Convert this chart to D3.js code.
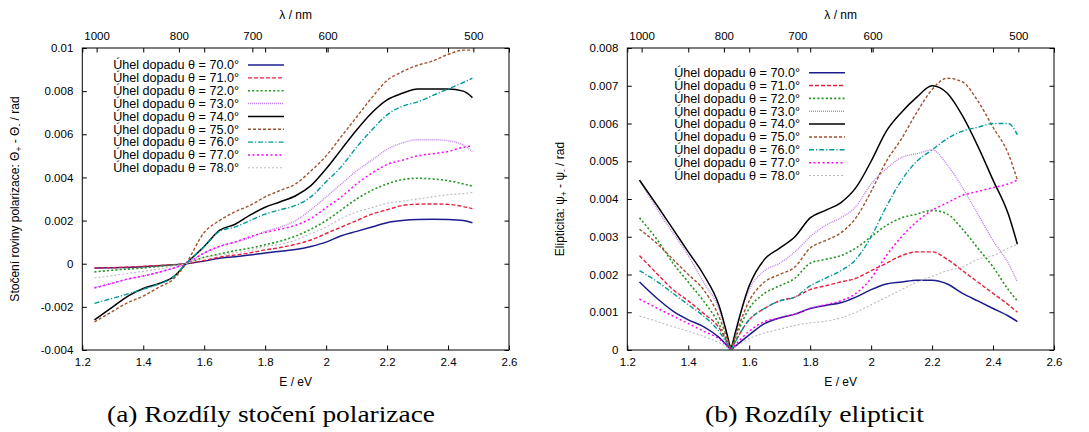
<!DOCTYPE html>
<html><head><meta charset="utf-8">
<script src="https://cdn.jsdelivr.net/npm/d3@7"></script>
<style>
body{margin:0;background:#fff}
svg{display:block}
text{fill:#000}
</style></head><body>
<svg id="chart" width="1089" height="432"></svg>
<script>
// ---------------- data ----------------
const energy = [1.24,1.3,1.35,1.4,1.45,1.5,1.54,1.6,1.65,1.7,1.75,1.8,1.85,1.9,1.95,2.0,2.05,2.1,2.15,2.2,2.25,2.3,2.35,2.4,2.45,2.48];
const angles = ["70.0","71.0","72.0","73.0","74.0","75.0","76.0","77.0","78.0"];

// (a) rotation differences  Θ+ - Θ-  [rad]
const rot70 = [-0.0002,-0.00019,-0.00017,-0.00014,-0.0001,-0.00005,0,0.00012,0.00025,0.00032,0.0004,0.0005,0.00058,0.00066,0.0008,0.001,0.0013,0.0015,0.0017,0.0019,0.002,0.00205,0.00206,0.00205,0.002,0.0019];
const rot71 = [-0.0002,-0.00018,-0.00015,-0.00012,-0.00008,-0.00004,0,0.00015,0.0003,0.0004,0.0005,0.00064,0.00075,0.0009,0.0011,0.0014,0.0017,0.002,0.0023,0.0025,0.0027,0.00276,0.00277,0.00275,0.00265,0.00255];
const rot72 = [-0.00038,-0.0003,-0.00025,-0.0002,-0.00013,-0.00006,0,0.0003,0.00045,0.0006,0.00072,0.00088,0.00105,0.00128,0.0016,0.002,0.0025,0.003,0.0034,0.0037,0.0039,0.00396,0.00393,0.00385,0.0037,0.0036];
const rot73 = [-0.0011,-0.0009,-0.00072,-0.00057,-0.0004,-0.0002,0,0.0005,0.0008,0.001,0.0012,0.0015,0.0017,0.002,0.0025,0.0031,0.0037,0.0043,0.0048,0.0053,0.0056,0.00575,0.00575,0.0057,0.0055,0.0052];
const rot74 = [-0.0026,-0.002,-0.0015,-0.00115,-0.00093,-0.0006,0,0.0008,0.00155,0.00182,0.00225,0.00262,0.00287,0.00315,0.00362,0.0044,0.0053,0.0062,0.007,0.0076,0.0079,0.0081,0.0081,0.0081,0.008,0.0077];
const rot75 = [-0.0027,-0.0022,-0.0018,-0.0015,-0.0011,-0.0007,0,0.00145,0.002,0.0024,0.0027,0.0031,0.0034,0.0037,0.0043,0.005,0.0059,0.0068,0.0077,0.0085,0.0089,0.0092,0.0094,0.0097,0.0099,0.0099];
const rot76 = [-0.00184,-0.0016,-0.0014,-0.00118,-0.00095,-0.0006,0,0.0008,0.0015,0.0017,0.002,0.0023,0.0025,0.0027,0.0031,0.0038,0.0045,0.0054,0.0062,0.0069,0.0073,0.0075,0.0078,0.0081,0.0084,0.0086];
const rot77 = [-0.00113,-0.0009,-0.0007,-0.00057,-0.0004,-0.0002,0,0.0005,0.0008,0.001,0.00125,0.00145,0.0016,0.00178,0.0021,0.0026,0.0031,0.0037,0.0042,0.0046,0.0048,0.005,0.0051,0.0052,0.0054,0.00545];
const rot78 = [-0.00066,-0.00055,-0.00045,-0.00035,-0.00025,-0.0001,0,0.0003,0.0004,0.0005,0.0006,0.0008,0.0009,0.0011,0.0014,0.0017,0.0021,0.0024,0.0026,0.0028,0.0029,0.003,0.0031,0.0032,0.00325,0.0033];

// (b) ellipticity differences  ψ+ - ψ-  [rad]
const ell70 = [0.0018,0.00135,0.00103,0.0008,0.00062,0.00034,0,0.0004,0.0007,0.00085,0.00095,0.0011,0.00118,0.00125,0.0014,0.0016,0.00175,0.0018,0.00185,0.00185,0.00175,0.0015,0.0013,0.0011,0.0009,0.00075];
const ell71 = [0.0025,0.002,0.0016,0.0013,0.00097,0.0006,0,0.0008,0.0011,0.0013,0.0014,0.0016,0.0017,0.0018,0.0019,0.0021,0.0023,0.0025,0.0026,0.0026,0.0024,0.0021,0.0018,0.0015,0.0012,0.001];
const ell72 = [0.0035,0.0029,0.0023,0.0018,0.0013,0.0007,0,0.0011,0.0015,0.0017,0.0019,0.0023,0.0024,0.0025,0.0027,0.003,0.0033,0.0035,0.0036,0.0037,0.0036,0.0032,0.0027,0.0022,0.0016,0.0013];
const ell73 = [0.0045,0.0037,0.0031,0.0025,0.0018,0.0011,0,0.0016,0.0021,0.0023,0.0026,0.003,0.0033,0.0035,0.0038,0.0044,0.0048,0.0051,0.0052,0.0053,0.0049,0.0043,0.0036,0.0029,0.0023,0.0018];
const ell74 = [0.0045,0.0038,0.0032,0.0026,0.002,0.0012,0,0.0017,0.0024,0.0027,0.003,0.0035,0.0037,0.0039,0.0043,0.005,0.0058,0.0063,0.0067,0.007,0.0068,0.0062,0.0054,0.0045,0.0036,0.0028];
const ell75 = [0.0032,0.0028,0.0024,0.002,0.0016,0.0009,0,0.0013,0.0018,0.002,0.0022,0.0027,0.0029,0.0031,0.0035,0.0042,0.005,0.0056,0.0063,0.0069,0.0072,0.0071,0.0066,0.0059,0.0052,0.0045];
const ell76 = [0.0021,0.0018,0.0015,0.0012,0.0009,0.0005,0,0.0008,0.0011,0.0013,0.0014,0.0017,0.0019,0.0021,0.0024,0.003,0.0038,0.0045,0.005,0.0053,0.0056,0.0058,0.0059,0.006,0.006,0.0057];
const ell77 = [0.00135,0.0011,0.0009,0.0007,0.0005,0.0003,0,0.0005,0.00075,0.00085,0.00095,0.0011,0.0012,0.0013,0.0015,0.0019,0.0025,0.003,0.0034,0.0037,0.0039,0.0041,0.0042,0.0043,0.0044,0.0045];
const ell78 = [0.0009,0.00075,0.00062,0.0005,0.00036,0.0002,0,0.0003,0.00045,0.00055,0.00065,0.00072,0.00076,0.00085,0.001,0.0012,0.0014,0.0016,0.0018,0.00195,0.0021,0.0022,0.0024,0.0025,0.0027,0.0028];

// axis ticks
const energyTicks = [1.2,1.4,1.6,1.8,2.0,2.2,2.4,2.6];
const rotTicks = [-0.004,-0.002,0,0.002,0.004,0.006,0.008,0.01];
const ellTicks = [0,0.001,0.002,0.003,0.004,0.005,0.006,0.007,0.008];
const lambdaLabels = [1000,800,700,600,500];
const lambdaAtEnergy = [1.247,1.517,1.758,2.005,2.483];

// ---------------- styles ----------------
const SANS = '"Liberation Sans",Arial,Helvetica,sans-serif';
const SERIF = '"Liberation Serif","Times New Roman",serif';
const styles = [
  {color:"#1c1c8c", dash:null, w:1.5},
  {color:"#e82040", dash:"4,2", w:1.4},
  {color:"#1f961f", dash:"2,2.2", w:1.6},
  {color:"#bf80ee", dash:"1,1", w:1.4},
  {color:"#000000", dash:null, w:1.5},
  {color:"#a0522d", dash:"3,2", w:1.4},
  {color:"#009a9a", dash:"5,2,1.2,2", w:1.4},
  {color:"#ff00ff", dash:"2,2.5", w:1.5},
  {color:"#bcbcbc", dash:"2,2", w:1.1}
];

const svg = d3.select("#chart");
const fmt = v => String(+v.toFixed(4));

function panel(cfg){
  const x = d3.scaleLinear().domain([1.2,2.6]).range([cfg.x0, cfg.x1]);
  const y = d3.scaleLinear().domain(cfg.yDomain).range([350,48]);
  const g = svg.append("g");

  g.append("g").attr("transform","translate(0,350)")
    .call(d3.axisBottom(x).tickValues(energyTicks).tickFormat(fmt).tickSize(-4.5).tickPadding(8));
  g.append("g").attr("transform","translate(0,48)")
    .call(d3.axisTop(x).tickValues(energyTicks).tickFormat("").tickSize(-4.5));
  g.append("g").attr("transform","translate(0,48)")
    .call(d3.axisTop(x).tickValues(lambdaAtEnergy).tickFormat((d,i)=>lambdaLabels[i]).tickSize(-4.5).tickPadding(8));
  g.append("g").attr("transform",`translate(${cfg.x0},0)`)
    .call(d3.axisLeft(y).tickValues(cfg.ticks).tickFormat(fmt).tickSize(-4.5).tickPadding(9));
  g.append("g").attr("transform",`translate(${cfg.x1},0)`)
    .call(d3.axisRight(y).tickValues(cfg.ticks).tickFormat("").tickSize(-4.5));

  g.selectAll(".domain").remove();
  g.selectAll(".tick line").attr("stroke","#000").attr("stroke-width",1);
  g.selectAll(".tick text").attr("font-size",11.5).style("font-family",SANS).attr("fill","#000");

  const cusp = energy.indexOf(1.54);
  const line = d3.line().x(d=>x(d[0])).y(d=>y(d[1])).curve(d3.curveMonotoneX);
  const clip = "clip"+cfg.id;
  g.append("clipPath").attr("id",clip).append("rect")
    .attr("x",cfg.x0).attr("y",48).attr("width",cfg.x1-cfg.x0).attr("height",302);
  const cg = g.append("g").attr("clip-path",`url(#${clip})`);
  cfg.series.forEach((vals,i)=>{
    const pts = energy.map((e,j)=>[e,vals[j]]);
    const parts = cfg.split ? [pts.slice(0,cusp+1), pts.slice(cusp)] : [pts];
    parts.forEach(p=>{
      cg.append("path").attr("d",line(p)).attr("fill","none")
        .attr("stroke",styles[i].color).attr("stroke-width",styles[i].w)
        .attr("stroke-dasharray",styles[i].dash);
    });
  });

  g.append("rect").attr("x",cfg.x0).attr("y",48).attr("width",cfg.x1-cfg.x0).attr("height",302)
    .attr("fill","none").attr("stroke","#000").attr("stroke-width",1);

  angles.forEach((a,i)=>{
    const ry = cfg.legY + i*12.85;
    g.append("text").attr("x",cfg.legX).attr("y",ry+4.3).attr("text-anchor","end")
      .style("font-family",SANS).attr("font-size",12.6).text(`Úhel dopadu θ = ${a}°`);
    g.append("line").attr("x1",cfg.legX+9).attr("x2",cfg.legX+45).attr("y1",ry).attr("y2",ry)
      .attr("stroke",styles[i].color).attr("stroke-width",styles[i].w)
      .attr("stroke-dasharray",styles[i].dash);
  });

  const cx = (cfg.x0+cfg.x1)/2;
  g.append("text").attr("x",cx).attr("y",19).attr("text-anchor","middle").style("font-family",SANS).attr("font-size",12).text("λ / nm");
  g.append("text").attr("x",cx).attr("y",386).attr("text-anchor","middle").style("font-family",SANS).attr("font-size",12).text("E / eV");

  const yl = g.append("text").attr("transform",`translate(${cfg.ylx},199) rotate(-90)`)
    .attr("text-anchor","middle").style("font-family",SANS).attr("font-size",12);
  yl.append("tspan").text(cfg.ylab[0]);
  yl.append("tspan").attr("font-size",8.5).attr("dy",3).text("+");
  yl.append("tspan").attr("dy",-3).text(cfg.ylab[1]);
  yl.append("tspan").attr("font-size",8.5).attr("dy",3).text("-");
  yl.append("tspan").attr("dy",-3).text(" / rad");

  svg.append("text").attr("x",cfg.capX).attr("y",422).attr("text-anchor","middle")
    .style("font-family",SERIF).attr("font-size",23.5)
    .attr("textLength",cfg.capW).attr("lengthAdjust","spacingAndGlyphs")
    .text(cfg.caption);
}

panel({id:"a", x0:82.3, x1:509, yDomain:[-0.004,0.01], ticks:rotTicks,
  series:[rot70,rot71,rot72,rot73,rot74,rot75,rot76,rot77,rot78], split:false,
  legX:239, legY:65, ylx:19, ylab:["Stočení roviny polarizace: Θ"," - Θ"],
  caption:"(a) Rozdíly stočení polarizace", capX:271, capW:328});
panel({id:"b", x0:627.3, x1:1054, yDomain:[0,0.008], ticks:ellTicks,
  series:[ell70,ell71,ell72,ell73,ell74,ell75,ell76,ell77,ell78], split:true,
  legX:800, legY:72.7, ylx:564, ylab:["Elipticita: ψ"," - ψ"],
  caption:"(b) Rozdíly elipticit", capX:814.5, capW:219});
</script>
</body></html>
